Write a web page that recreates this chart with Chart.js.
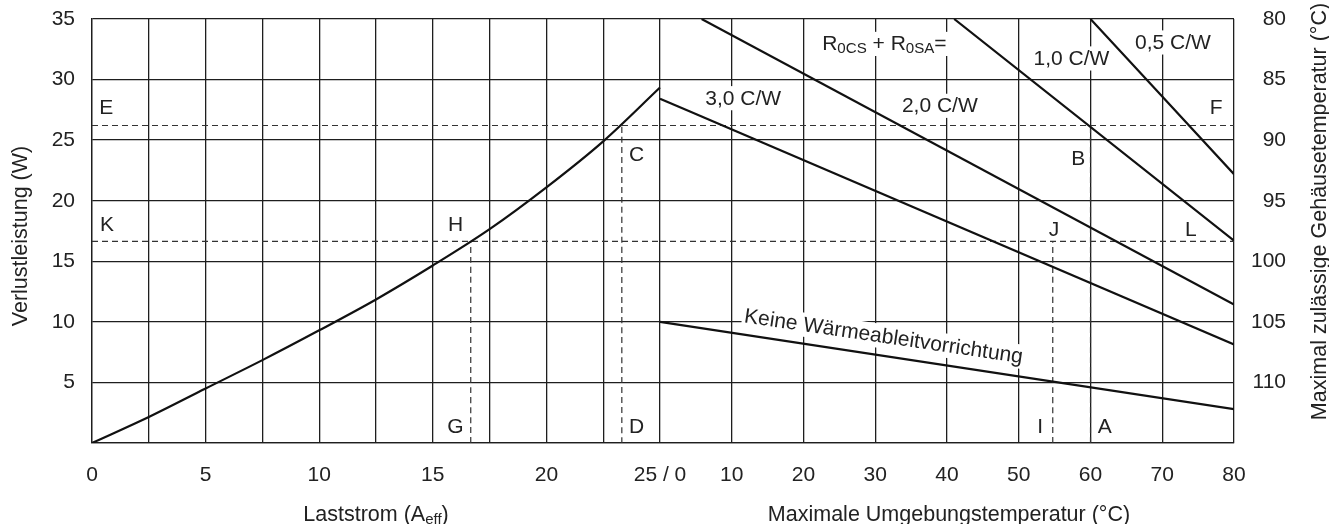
<!DOCTYPE html>
<html lang="de">
<head>
<meta charset="utf-8">
<title>Verlustleistung / Gehäusetemperatur</title>
<script src="https://cdn.jsdelivr.net/npm/chart.js@4"></script>
<style>
  html, body { margin: 0; padding: 0; background: #fff; }
  #wrap { width: 1329px; height: 524px; position: relative; }
</style>
</head>
<body>
<div id="wrap"><canvas id="verlustChart"></canvas></div>
<script>
const ctx = document.getElementById('verlustChart').getContext('2d')

// Linker Teil: Verlustleistung (W) über Laststrom (A)
const laststrom = [0, 2.5, 5, 7.5, 10, 12.5, 15, 17.5, 20, 22.5, 25]
const verlustleistung = [0, 2.15, 4.5, 6.84, 9.3, 11.85, 14.65, 17.65, 21.1, 24.9, 29.34]

// Rechter Teil: Geraden je Wärmewiderstand (x = Umgebungstemperatur °C, y = W)
const keineX = [0, 80]
const keineY = [10, 2.79]
const r30X = [0, 80]
const r30Y = [28.42, 8.14]
const r20X = [5.8, 80]
const r20Y = [35, 11.43]
const r10X = [41, 80]
const r10Y = [35, 16.7]
const r05X = [60, 80]
const r05Y = [35, 22.19]

// Hilfslinien (gestrichelt)
const linieEF = 26.21 // W
const linieKL = 16.64 // W
const stromG = 16.67 // A
const stromD = 23.32 // A
const tempI = 54.74 // °C
const tempA = 60 // °C

// Achsenteilung
const stromTicks = [0, 2.5, 5, 7.5, 10, 12.5, 15, 17.5, 20, 22.5, 25]
const tempTicks = [10, 20, 30, 40, 50, 60, 70, 80]

// Beschriftungen: [Text, Achse, x, y] (Mitte der Buchstaben)
const buchstaben = [
  ['E', 'x', 0.63, 27.65], ['K', 'x', 0.66, 17.94], ['H', 'x', 16.0, 18.0],
  ['G', 'x', 16.0, 1.32], ['C', 'x', 23.97, 23.78], ['D', 'x', 23.97, 1.32],
  ['F', 'x2', 77.5, 27.65], ['B', 'x2', 58.3, 23.43], ['J', 'x2', 54.9, 17.56],
  ['L', 'x2', 73.97, 17.56], ['I', 'x2', 52.97, 1.3], ['A', 'x2', 62.0, 1.3]
]
const kurvenText = [
  ['3,0 C/W', 11.6, 28.42], ['2,0 C/W', 39.0, 27.79],
  ['1,0 C/W', 57.35, 31.7], ['0,5 C/W', 71.5, 33.02]
]

const schrift = "'Liberation Sans', Arial, sans-serif"
const textFarbe = '#222'
const gitterFarbe = '#1e1e1e'

// Anteil der Laststrom-Hälfte an der Plotbreite
const splitAnteil = 568 / 1142
const stromMax = 25 / splitAnteil
const tempMin = -80 * splitAnteil / (1 - splitAnteil)
const tempZuStrom = t => 25 + t * (stromMax - 25) / 80

Chart.defaults.font.family = schrift
Chart.defaults.color = textFarbe

const punkte = (xs, ys) => xs.map((x, i) => ({ x: x, y: ys[i] }))

const linie = (data, achse) => ({
  data: data,
  xAxisID: achse,
  yAxisID: 'y',
  borderColor: '#111',
  borderWidth: 2.2,
  pointRadius: 0,
  fill: false
})
const gestrichelt = (data, achse) => ({
  data: data,
  xAxisID: achse,
  yAxisID: 'y',
  borderColor: '#333',
  borderWidth: 1.2,
  borderDash: [6, 4],
  pointRadius: 0,
  fill: false
})

// keine automatischen Randabstände durch Achsenbeschriftungen
const ohneRand = s => {
  s.paddingTop = 0
  s.paddingBottom = 0
  s.paddingLeft = 0
  s.paddingRight = 0
}

// Text mit Tiefstellung: teile = [[text, tief], ...]
function reicherText (c, teile, x, y, align, groesse, kasten) {
  let breite = 0
  const masse = teile.map(([t, tief]) => {
    c.font = (tief ? groesse * 0.72 : groesse) + 'px ' + schrift
    const w = c.measureText(t).width
    breite += w
    return w
  })
  let x0 = align === 'center' ? x - breite / 2 : align === 'right' ? x - breite : x
  if (kasten) {
    c.fillStyle = '#fff'
    c.fillRect(x0 - 2, y - groesse * 0.6, breite + 4, groesse * 1.15)
  }
  c.fillStyle = textFarbe
  c.textAlign = 'left'
  c.textBaseline = 'middle'
  teile.forEach(([t, tief], i) => {
    c.font = (tief ? groesse * 0.72 : groesse) + 'px ' + schrift
    c.fillText(t, x0, y + (tief ? groesse * 0.22 : 0))
    x0 += masse[i]
  })
}

const beschriftung = {
  id: 'beschriftung',
  beforeDatasetsDraw (chart) {
    const c = chart.ctx
    const { x, x2, y } = chart.scales
    c.save()
    buchstaben.forEach(([t, achse, vx, vy]) => {
      const s = achse === 'x' ? x : x2
      reicherText(c, [[t]], s.getPixelForValue(vx), y.getPixelForValue(vy), 'center', 21, true)
    })
    kurvenText.forEach(([t, vx, vy]) => {
      reicherText(c, [[t]], x2.getPixelForValue(vx), y.getPixelForValue(vy), 'center', 21, true)
    })
    reicherText(c, [['R'], ['0CS', true], [' + R'], ['0SA', true], ['=']],
      x2.getPixelForValue(22.6), y.getPixelForValue(32.9), 'left', 21, true)

    // Beschriftung entlang der Geraden ohne Kühlkörper
    const px1 = x2.getPixelForValue(keineX[0])
    const py1 = y.getPixelForValue(keineY[0])
    const px2 = x2.getPixelForValue(keineX[1])
    const py2 = y.getPixelForValue(keineY[1])
    c.translate(x2.getPixelForValue(31.15), y.getPixelForValue(8.75))
    c.rotate(Math.atan2(py2 - py1, px2 - px1) * 0.97)
    reicherText(c, [['Keine Wärmeableitvorrichtung']], 0, 0, 'center', 21, true)
    c.restore()
  },
  afterDraw (chart) {
    const c = chart.ctx
    const { x, x2 } = chart.scales
    const area = chart.chartArea
    c.save()
    c.fillStyle = textFarbe
    c.font = '21.5px ' + schrift
    c.textAlign = 'center'
    c.textBaseline = 'alphabetic'

    c.save()
    c.translate(27, 236)
    c.rotate(-Math.PI / 2)
    c.fillText('Verlustleistung (W)', 0, 0)
    c.restore()

    c.save()
    c.translate(1326, 211.5)
    c.rotate(-Math.PI / 2)
    c.fillText('Maximal zulässige Gehäusetemperatur (°C)', 0, 0)
    c.restore()

    const basis = area.bottom + 78
    c.fillText('Maximale Umgebungstemperatur (°C)',
      (x2.getPixelForValue(0) + x2.getPixelForValue(80)) / 2 + 2, basis)

    const mitte = (x.getPixelForValue(0) + x.getPixelForValue(25)) / 2
    const teile = [['Laststrom (A', 21.5, 0], ['eff', 15, 3], [')', 21.5, 0]]
    let breite = 0
    teile.forEach(([t, g]) => { c.font = g + 'px ' + schrift; breite += c.measureText(t).width })
    let x0 = mitte - breite / 2
    c.textAlign = 'left'
    teile.forEach(([t, g, dy]) => {
      c.font = g + 'px ' + schrift
      c.fillText(t, x0, basis + dy)
      x0 += c.measureText(t).width
    })
    c.restore()
  }
}

new Chart(ctx, {
  type: 'line',
  data: {
    datasets: [
      linie(punkte(laststrom, verlustleistung), 'x'),
      linie(punkte(keineX, keineY), 'x2'),
      linie(punkte(r30X, r30Y), 'x2'),
      linie(punkte(r20X, r20Y), 'x2'),
      linie(punkte(r10X, r10Y), 'x2'),
      linie(punkte(r05X, r05Y), 'x2'),
      gestrichelt([{ x: 0, y: linieEF }, { x: 25, y: linieEF }], 'x'),
      gestrichelt([{ x: 0, y: linieEF }, { x: 80, y: linieEF }], 'x2'),
      gestrichelt([{ x: 0, y: linieKL }, { x: 25, y: linieKL }], 'x'),
      gestrichelt([{ x: 0, y: linieKL }, { x: 80, y: linieKL }], 'x2'),
      gestrichelt([{ x: stromG, y: 0 }, { x: stromG, y: linieKL }], 'x'),
      gestrichelt([{ x: stromD, y: 0 }, { x: stromD, y: linieEF }], 'x'),
      gestrichelt([{ x: tempI, y: 0 }, { x: tempI, y: linieKL }], 'x2'),
      gestrichelt([{ x: tempA, y: 0 }, { x: tempA, y: linieEF }], 'x2')
    ]
  },
  options: {
    responsive: true,
    maintainAspectRatio: false,
    animation: false,
    layout: { padding: { top: 19, left: 0, right: 43, bottom: 0 } },
    elements: { line: { cubicInterpolationMode: 'monotone' } },
    plugins: {
      legend: { display: false },
      tooltip: { enabled: false }
    },
    scales: {
      x: {
        type: 'linear',
        position: 'bottom',
        min: 0,
        max: stromMax,
        afterBuildTicks: s => {
          s.ticks = stromTicks.map(v => ({ value: v }))
            .concat(tempTicks.map(t => ({ value: tempZuStrom(t) })))
        },
        afterFit: s => { s.height = 81; ohneRand(s) },
        grid: { color: gitterFarbe, lineWidth: 1.3, drawTicks: false },
        border: { color: gitterFarbe, width: 1.3 },
        ticks: {
          autoSkip: false,
          maxRotation: 0,
          padding: 20,
          font: { size: 21 },
          callback: v => {
            if (v > 25.001) return Math.round((v - 25) * 80 / (stromMax - 25))
            if (Math.abs(v - 25) < 0.001) return '25 / 0'
            return v % 5 === 0 ? v : ''
          }
        }
      },
      x2: {
        type: 'linear',
        display: false,
        min: tempMin,
        max: 80
      },
      y: {
        position: 'left',
        min: 0,
        max: 35,
        afterFit: s => { s.width = 92; ohneRand(s) },
        grid: { color: gitterFarbe, lineWidth: 1.3, drawTicks: false },
        border: { color: gitterFarbe, width: 1.3 },
        ticks: {
          stepSize: 5,
          padding: 17,
          font: { size: 21 },
          callback: v => v === 0 ? '' : v
        }
      },
      y2: {
        position: 'right',
        min: 80,
        max: 115,
        reverse: true,
        afterFit: s => { s.width = 52; ohneRand(s) },
        grid: { display: false, drawTicks: false },
        border: { display: false },
        ticks: {
          stepSize: 5,
          padding: 18,
          crossAlign: 'far',
          font: { size: 21 },
          callback: v => v === 115 ? '' : v
        }
      }
    }
  },
  plugins: [beschriftung]
})
</script>
</body>
</html>
